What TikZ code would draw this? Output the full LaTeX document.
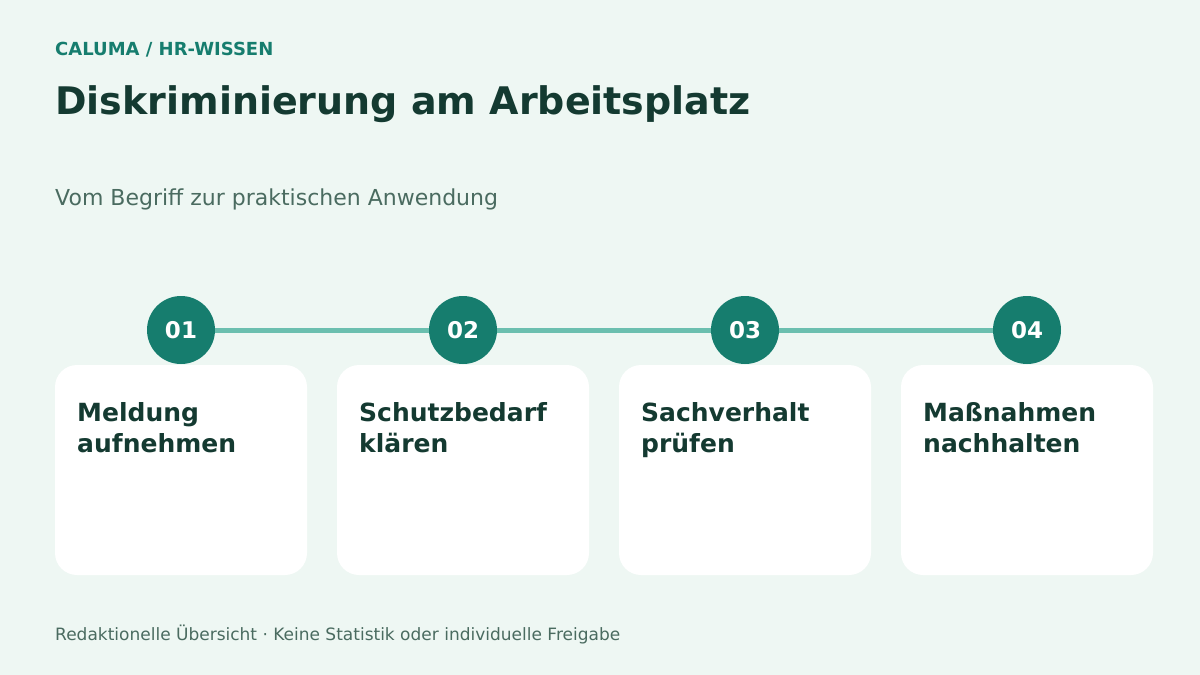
\documentclass[tikz,border=0pt]{standalone}
\usepackage{fontspec}
\setmainfont{DejaVu Sans}
\definecolor{bg}{HTML}{EEF7F3}
\definecolor{teal}{HTML}{167D6E}
\definecolor{tealline}{HTML}{6BBFAF}
\definecolor{dark}{HTML}{143A31}
\definecolor{muted}{HTML}{4A6B60}
\begin{document}
\begin{tikzpicture}[x=1pt,y=-1pt,
  card/.style={fill=white,rounded corners=22pt},
  stepdot/.style={circle,fill=teal,minimum size=68pt,inner sep=0pt,text=white,font=\fontsize{23}{27}\selectfont\bfseries},
  cardtext/.style={anchor=base west,align=left,inner sep=0pt,text=dark,font=\fontsize{25}{31}\selectfont\bfseries},
  txt/.style={anchor=base west,inner sep=0pt}]
\fill[bg] (0,0) rectangle (1200,675);
\useasboundingbox (0,0) rectangle (1200,675);
\node[txt,text=teal,font=\fontsize{18}{21}\selectfont\bfseries] (kicker) at (55,55) {CALUMA / HR-WISSEN};
\node[txt,text=dark,font=\fontsize{38}{44}\selectfont\bfseries] (title) at (55,114) {Diskriminierung am Arbeitsplatz};
\node[txt,text=muted,font=\fontsize{22}{26}\selectfont] (sub) at (55,205) {Vom Begriff zur praktischen Anwendung};
\foreach \i/\x/\t in {1/55/{Meldung\\aufnehmen},2/337/{Schutzbedarf\\klären},3/619/{Sachverhalt\\prüfen},4/901/{Maßnahmen\\nachhalten}}{
  \fill[card] (\x,365) rectangle ++(252,210);
  \node[cardtext] (c\i) at (\x+22,452) {\t};
}
\node[stepdot] (s1) at (181,330) {01};
\node[stepdot] (s2) at (463,330) {02};
\node[stepdot] (s3) at (745,330) {03};
\node[stepdot] (s4) at (1027,330) {04};
\draw[tealline,line width=5pt] (s1) -- (s2);
\draw[tealline,line width=5pt] (s2) -- (s3);
\draw[tealline,line width=5pt] (s3) -- (s4);
\node[txt,text=muted,font=\fontsize{17}{20}\selectfont] (foot) at (55,640) {Redaktionelle Übersicht · Keine Statistik oder individuelle Freigabe};
\end{tikzpicture}
\end{document}
